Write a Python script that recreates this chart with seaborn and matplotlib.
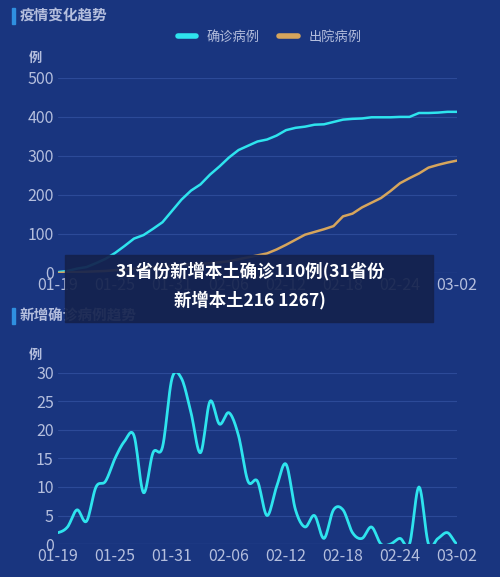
import numpy as np
import pandas as pd
import matplotlib
matplotlib.use("Agg")
import matplotlib.pyplot as plt
from matplotlib.lines import Line2D
import seaborn as sns

# 数据 (2021-01-19 ~ 03-02)
dates = pd.date_range("2021-01-19", "2021-03-02").strftime("%m-%d").tolist()
confirmed = [2, 5, 11, 15, 25, 36, 51, 69, 88, 97, 113, 130, 159, 188, 211, 227, 252, 273,
             296, 315, 326, 337, 342, 352, 366, 372, 375, 380, 381, 387, 393, 395, 396, 399,
             399, 399, 400, 400, 410, 410, 411, 413, 413]
discharged = [0, 1, 2, 3, 4, 5, 7, 9, 11, 13, 15, 17, 19, 21, 22, 23, 25, 27, 30, 35, 40, 45,
              50, 60, 72, 85, 98, 105, 112, 120, 145, 152, 168, 180, 192, 210, 230, 243, 255,
              270, 277, 283, 288]
new_cases = [2, 3, 6, 4, 10, 11, 15, 18, 19, 9, 16, 17, 29, 29, 23, 16, 25, 21, 23, 19, 11, 11,
             5, 10, 14, 6, 3, 5, 1, 6, 6, 2, 1, 3, 0, 0, 1, 0, 10, 0, 1, 2, 0]
tick_idx = list(range(0, len(dates), 6))

BG = "#19357f"
TXT = "#b4bedd"
GRID = "#2c4a98"
CYAN = "#2ee4ee"
ORANGE = "#d6a55c"

sns.set_theme(style="dark")
plt.rcParams['font.family'] = ['Noto Sans CJK SC', 'DejaVu Sans']

fig = plt.figure(figsize=(5, 5.77), dpi=100, facecolor=BG)


def smooth(y, n=12):
    # Catmull-Rom 平滑曲线
    y = np.asarray(y, float)
    p = np.concatenate([[y[0]], y, [y[-1]]])
    xs, ys = [], []
    for i in range(len(y) - 1):
        p0, p1, p2, p3 = p[i], p[i + 1], p[i + 2], p[i + 3]
        t = np.linspace(0, 1, n, endpoint=False)
        v = 0.5 * (2 * p1 + (-p0 + p2) * t + (2 * p0 - 5 * p1 + 4 * p2 - p3) * t ** 2
                   + (-p0 + 3 * p1 - 3 * p2 + p3) * t ** 3)
        xs.extend(i + t)
        ys.extend(v)
    xs.append(len(y) - 1)
    ys.append(y[-1])
    return np.array(xs), np.array(ys)


def style_ax(ax, ymax, step):
    ax.set_facecolor(BG)
    ax.set_xlim(0, len(dates) - 1)
    ax.set_ylim(0, ymax)
    ax.set_yticks(np.arange(0, ymax + 1, step))
    ax.set_xticks(tick_idx)
    ax.set_xticklabels([dates[i] for i in tick_idx])
    ax.tick_params(colors=TXT, labelsize=11.5, length=0, pad=3)
    ax.grid(axis='y', color=GRID, lw=0.8)
    ax.grid(axis='x', visible=False)
    for s in ax.spines.values():
        s.set_visible(False)
    ax.axhline(0, color="#4a64ad", lw=0.8)
    ax.set_xlabel("")
    ax.set_ylabel("")
    ax.text(-0.04, 1.08, "例", transform=ax.transAxes, color=TXT, fontsize=9.5,
            ha='right', fontweight='bold')


# 上图: 累计
ax1 = fig.add_axes([0.116, 0.527, 0.798, 0.338])
x = np.arange(len(dates))
df1 = pd.DataFrame({"x": np.concatenate([x, x]),
                    "v": confirmed + discharged,
                    "s": ["确诊病例"] * len(x) + ["出院病例"] * len(x)})
sns.lineplot(data=df1, x="x", y="v", hue="s", palette=[CYAN, ORANGE], lw=1.8, ax=ax1, legend=False)
style_ax(ax1, 500, 100)
h = [Line2D([], [], color=CYAN, lw=4), Line2D([], [], color=ORANGE, lw=4)]
ax1.legend(h, ["确诊病例", "出院病例"], loc='center', bbox_to_anchor=(0.53, 1.21),
           ncol=2, frameon=False, fontsize=9.5, handlelength=1.4, columnspacing=1.5,
           labelcolor=TXT)

# 下图: 新增
ax2 = fig.add_axes([0.116, 0.057, 0.798, 0.297])
sx, sy = smooth(new_cases)
sns.lineplot(x=sx, y=sy, color=CYAN, lw=2, ax=ax2)
style_ax(ax2, 30, 5)

# 标题
for yc, title in [(1 - 16 / 577, "疫情变化趋势"), (1 - 316 / 577, "新增确诊病例趋势")]:
    fig.patches.append(plt.Rectangle((0.024, yc - 0.013), 0.006, 0.026, transform=fig.transFigure,
                                     color="#2f8fe0"))
    fig.text(0.04, yc, title, color=TXT, fontsize=10.5, va='center', fontweight='bold')

# 覆盖横幅
fig.patches.append(plt.Rectangle((0.13, 1 - 322 / 577), 0.736, 67 / 577, transform=fig.transFigure,
                                 color="#14224d", alpha=0.92, zorder=5))
fig.text(0.5, 1 - 271 / 577, "31省份新增本土确诊110例(31省份", color="white", fontsize=12.5,
         fontweight='bold', ha='center', va='center', zorder=6)
fig.text(0.5, 1 - 300 / 577, "新增本土216 1267)", color="white", fontsize=12.5,
         fontweight='bold', ha='center', va='center', zorder=6)

fig.savefig("out.png", dpi=100, facecolor=BG)
